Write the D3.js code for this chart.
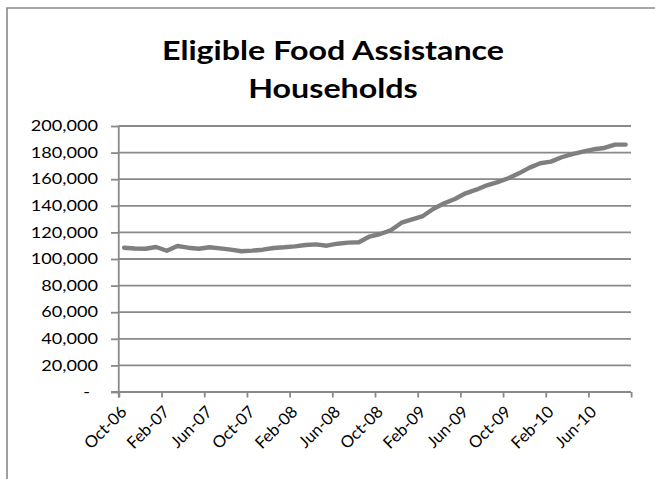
<!DOCTYPE html>
<html>
<head>
<meta charset="utf-8">
<script src="https://cdn.jsdelivr.net/npm/d3@7"></script>
<style>
  html, body { margin: 0; padding: 0; background: #ffffff; }
  svg { display: block; }
  text { font-family: Lato, Carlito, "Open Sans", sans-serif; fill: #000; }
</style>
</head>
<body>
<div id="chart"></div>
<script>
// Monthly categories, Oct-06 through Sep-10
const categories = [
  "Oct-06","Nov-06","Dec-06","Jan-07","Feb-07","Mar-07","Apr-07","May-07",
  "Jun-07","Jul-07","Aug-07","Sep-07","Oct-07","Nov-07","Dec-07","Jan-08",
  "Feb-08","Mar-08","Apr-08","May-08","Jun-08","Jul-08","Aug-08","Sep-08",
  "Oct-08","Nov-08","Dec-08","Jan-09","Feb-09","Mar-09","Apr-09","May-09",
  "Jun-09","Jul-09","Aug-09","Sep-09","Oct-09","Nov-09","Dec-09","Jan-10",
  "Feb-10","Mar-10","Apr-10","May-10","Jun-10","Jul-10","Aug-10","Sep-10"
];

// Eligible food assistance households per month
const households = [
  108500, 107900, 107700, 109000, 106200, 109800, 108500, 107700,
  108800, 108000, 107000, 105800, 106300, 107000, 108300, 108800,
  109500, 110500, 111000, 110000, 111500, 112300, 112600, 116900,
  118800, 121600, 127300, 129800, 132300, 137800, 141900, 145100,
  149400, 152100, 155400, 157800, 160700, 164400, 168700, 172000,
  173200, 176500, 178900, 180700, 182500, 183500, 186000, 186000
];

const yTicks = [0, 20000, 40000, 60000, 80000, 100000, 120000, 140000, 160000, 180000, 200000];
const yTickLabels = ["-", "20,000", "40,000", "60,000", "80,000", "100,000",
                     "120,000", "140,000", "160,000", "180,000", "200,000"];
const xLabels = ["Oct-06","Feb-07","Jun-07","Oct-07","Feb-08","Jun-08",
                 "Oct-08","Feb-09","Jun-09","Oct-09","Feb-10","Jun-10"];
const titleLines = ["Eligible Food Assistance", "Households"];

// The chart is laid out on a narrower canvas and widened to the page
const W = 655, H = 479;
const widen = 1.25;
const VW = W / widen;

const gray = "#898989";
const lineGray = "#7f7f7f";

const svg = d3.select("#chart").append("svg")
  .attr("width", W).attr("height", H)
  .attr("viewBox", `0 0 ${VW} ${H}`)
  .attr("preserveAspectRatio", "none");

// Chart area border
svg.append("rect")
  .attr("x", 5.6).attr("y", 8)
  .attr("width", VW + 20).attr("height", H + 20)
  .attr("fill", "none").attr("stroke", gray).attr("stroke-width", 1.6)
  .attr("vector-effect", "non-scaling-stroke");

// Title
svg.append("g").selectAll("text").data(titleLines).join("text")
  .attr("x", 266.4)
  .attr("y", (d, i) => 60 + i * 38)
  .attr("text-anchor", "middle")
  .style("font-weight", "bold")
  .style("font-size", "25.8px")
  .text(d => d);

const plot = { left: 95, right: 504.8, top: 126, bottom: 392 };

const x = d3.scaleBand().domain(categories).range([plot.left, plot.right]).padding(0);
const y = d3.scaleLinear().domain([0, 200000]).range([plot.bottom, plot.top]);

// Horizontal gridlines
svg.append("g").selectAll("line").data(yTicks.filter(d => d > 0)).join("line")
  .attr("x1", plot.left).attr("x2", plot.right)
  .attr("y1", d => y(d)).attr("y2", d => y(d))
  .attr("stroke", gray).attr("stroke-width", 1.8)
  .attr("vector-effect", "non-scaling-stroke");

// Value axis
const yAxis = d3.axisLeft(y)
  .tickValues(yTicks)
  .tickFormat((d, i) => yTickLabels[i])
  .tickSize(6.2)
  .tickPadding(10.4)
  .tickSizeOuter(0);

const gy = svg.append("g").attr("transform", `translate(${plot.left},0)`).call(yAxis);
gy.select(".domain").remove();
gy.selectAll(".tick line")
  .attr("stroke", gray).attr("stroke-width", 1.8)
  .attr("vector-effect", "non-scaling-stroke");
gy.selectAll(".tick text")
  .attr("dx", d => d === 0 ? -6.5 : 0)
  .style("font-size", "14.5px")
  .style("font-family", "Lato, Carlito, sans-serif")
  .attr("fill", "#000");

// Category axis: ticks on every fourth category boundary
const boundary = d3.scaleLinear().domain([0, categories.length]).range([plot.left, plot.right]);
const xAxis = d3.axisBottom(boundary)
  .tickValues(d3.range(0, categories.length + 1, 4))
  .tickSize(5.5)
  .tickFormat("")
  .tickSizeOuter(0);
const gx = svg.append("g").attr("transform", `translate(0,${plot.bottom})`).call(xAxis);
gx.select(".domain").remove();
gx.selectAll(".tick line")
  .attr("stroke", gray).attr("stroke-width", 1.8)
  .attr("vector-effect", "non-scaling-stroke");

// Axis lines
svg.append("line")
  .attr("x1", plot.left - 6.2).attr("x2", plot.right)
  .attr("y1", plot.bottom).attr("y2", plot.bottom)
  .attr("stroke", gray).attr("stroke-width", 1.8)
  .attr("vector-effect", "non-scaling-stroke");
svg.append("line")
  .attr("x1", plot.left).attr("x2", plot.left)
  .attr("y1", plot.top).attr("y2", plot.bottom + 5.5)
  .attr("stroke", gray).attr("stroke-width", 1.8)
  .attr("vector-effect", "non-scaling-stroke");

// Rotated category labels, set upright against the widening so they sit at 45 degrees
svg.append("g").selectAll("text").data(xLabels).join("text")
  .attr("text-anchor", "end")
  .attr("transform", d => `translate(${x(d) + x.bandwidth() / 2 + 3},${plot.bottom + 21}) scale(${1 / widen},1) rotate(-45)`)
  .style("font-size", "16.5px")
  .text(d => d);

// Household series
const line = d3.line()
  .x((d, i) => x(categories[i]) + x.bandwidth() / 2)
  .y(d => y(d));

svg.append("path")
  .datum(households)
  .attr("d", line)
  .attr("fill", "none")
  .attr("stroke", lineGray)
  .attr("stroke-width", 4.4)
  .attr("stroke-linejoin", "round")
  .attr("stroke-linecap", "round")
  .attr("vector-effect", "non-scaling-stroke");
</script>
</body>
</html>
